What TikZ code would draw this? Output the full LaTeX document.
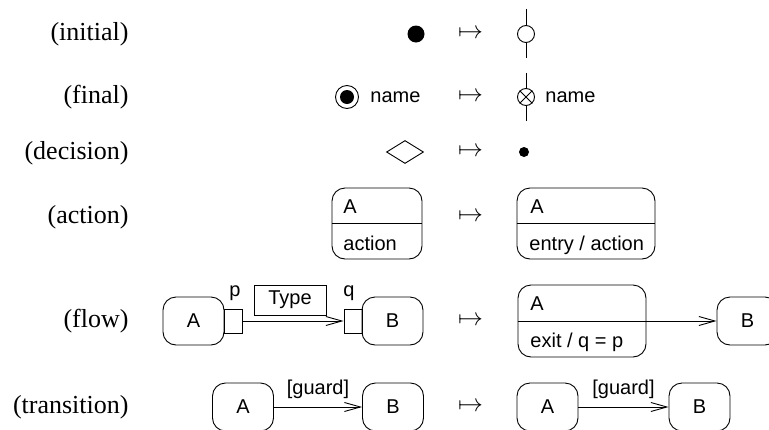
\documentclass[tikz,border=0pt]{standalone}
\usepackage{fontspec}
\setmainfont{Liberation Serif}
\setsansfont{Liberation Sans}
\usetikzlibrary{arrows.meta,shapes.geometric}
\begin{document}
\begin{tikzpicture}[x=1pt,y=-1pt,
  line width=0.9pt,
  lab/.style={font=\fontsize{26}{30}\selectfont, anchor=east, inner sep=0pt},
  sf/.style={font=\sffamily\fontsize{20}{24}\selectfont, inner sep=0pt},
  mt/.style={font=\fontsize{25}{30}\selectfont, inner sep=0pt},
  st/.style={draw, rounded corners=13pt, minimum height=48pt, minimum width=61pt, inner sep=0pt, font=\sffamily\fontsize{20}{24}\selectfont},
  port/.style={draw, minimum width=18pt, minimum height=24pt, inner sep=0pt},
  dot/.style={circle, fill, inner sep=0pt},
  ring/.style={circle, draw, inner sep=0pt},
  arr/.style={-{Straight Barb[length=16pt,width=9pt]}},
]
\useasboundingbox (0,0) rectangle (769,429);

% row labels
\node[lab] (l1) at (129,34) {(initial)};
\node[lab] (l2) at (129,97) {(final)};
\node[lab] (l3) at (129,153) {(decision)};
\node[lab] (l4) at (129,217) {(action)};
\node[lab] (l5) at (129,321) {(flow)};
\node[lab] (l6) at (129,407) {(transition)};

% mapsto
\node[mt] (m1) at (470.5,34) {$\mapsto$};
\node[mt] (m2) at (470.5,97) {$\mapsto$};
\node[mt] (m3) at (470.5,152) {$\mapsto$};
\node[mt] (m4) at (470.5,217) {$\mapsto$};
\node[mt] (m5) at (470.5,321) {$\mapsto$};
\node[mt] (m6) at (470.5,407) {$\mapsto$};

% initial
\node[dot, minimum size=17pt] (ini) at (416,34) {};
\node[ring, minimum size=17pt] (ini2) at (526,34) {};
\coordinate (it) at (526,9);
\coordinate (ib) at (526,58);
\draw (it) -- (ini2.north);
\draw (ini2.south) -- (ib);

% final
\node[ring, minimum size=23pt] (fin) at (347,97) {};
\node[dot, minimum size=14pt] (finin) at (fin.center) {};
\node[sf, anchor=west] (fn) at (370,97) {name};
\node[ring, minimum size=17pt] (fin2) at (526,97) {};
\draw (fin2.north west) -- (fin2.south east);
\draw (fin2.north east) -- (fin2.south west);
\coordinate (ft) at (526,73);
\coordinate (fb) at (526,121);
\draw (ft) -- (fin2.north);
\draw (fin2.south) -- (fb);
\node[sf, anchor=west] (fn2) at (545,97) {name};

% decision
\node[diamond, draw, minimum width=37pt, minimum height=23pt, inner sep=0pt] (dec) at (405,152) {};
\node[dot, minimum size=10pt] (dec2) at (524,152) {};

% action
\node[st, minimum width=90pt, minimum height=71pt] (act) at (377,223.5) {};
\draw (act.west) -- (act.east);
\node[sf, anchor=base west] (actA) at (343,213) {A};
\node[sf, anchor=base west] (actT) at (343,250) {action};
\node[st, minimum width=138pt, minimum height=71pt] (act2) at (586,223.5) {};
\draw (act2.west) -- (act2.east);
\node[sf, anchor=base west] (act2A) at (530,213) {A};
\node[sf, anchor=base west] (act2T) at (529,250) {entry / action};

% flow
\node[st] (fA) at (193.5,321) {A};
\node[port] (pp) at (233,321) {};
\node[port] (pq) at (353,321) {};
\node[st] (fB) at (392.5,321) {B};
\node[draw, sf, minimum width=72pt, minimum height=30pt] (ty) at (290,300) {Type};
\node[sf] (lp) at (235,293) {p};
\node[sf] (lq) at (349,293) {q};
\draw[arr] (pp.east) -- (pq.west);

\node[st, minimum width=128pt, minimum height=72pt] (fA2) at (582,321) {};
\draw (fA2.west) -- (fA2.east);
\node[sf, anchor=base west] (fA2A) at (530,310) {A};
\node[sf, anchor=base west] (fA2T) at (530,347) {exit / q = p};
\node[st] (fB2) at (747.5,321) {B};
\draw[arr] (fA2.east) -- (fB2.west);

% transition
\node[st] (tA) at (243,407) {A};
\node[st] (tB) at (393,407) {B};
\draw[arr] (tA) -- node[sf, yshift=18pt] (g1) {[guard]} (tB);
\node[st] (tA2) at (547.5,407) {A};
\node[st] (tB2) at (699.5,407) {B};
\draw[arr] (tA2) -- node[sf, yshift=18pt] (g2) {[guard]} (tB2);
\end{tikzpicture}
\end{document}
